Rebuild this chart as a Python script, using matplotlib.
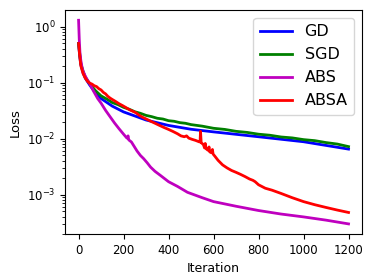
import numpy as np
import matplotlib
matplotlib.use('Agg')
import matplotlib.pyplot as plt

# GD
gd_it = [0, 5, 10, 20, 30, 50, 75, 100, 150, 200, 300, 400, 500, 600, 800, 1000, 1200]
gd_loss = [0.5, 0.3, 0.21, 0.15, 0.12, 0.09, 0.066, 0.052, 0.038, 0.030, 0.0215, 0.0172,
           0.0147, 0.0132, 0.0108, 0.0088, 0.0065]

# SGD
sgd_it = [0, 10, 20, 30, 50, 75, 100, 125, 150, 175, 200, 225, 250, 275, 300, 325, 350,
          375, 400, 425, 450, 475, 500, 550, 600, 650, 700, 750, 800, 850, 900, 950,
          1000, 1050, 1100, 1150, 1200]
sgd_loss = [0.5, 0.22, 0.16, 0.125, 0.095, 0.072, 0.058, 0.051, 0.044, 0.0405, 0.0362,
            0.0335, 0.0302, 0.0283, 0.026, 0.0247, 0.0231, 0.0224, 0.0209, 0.0204, 0.0193,
            0.0188, 0.0178, 0.0167, 0.0153, 0.0146, 0.0135, 0.0129, 0.012, 0.0115,
            0.0107, 0.0103, 0.0096, 0.0092, 0.0085, 0.008, 0.0072]

# ABS
abs_it = [0, 3, 6, 10, 15, 20, 30, 40, 50, 67, 85, 100, 120, 142, 160, 180, 200, 215,
          220, 223, 235, 245, 260, 275, 289, 305, 320, 340, 364, 400, 440, 484, 550, 600,
          700, 800, 900, 1000, 1100, 1200]
abs_loss = [1.3, 0.6, 0.35, 0.25, 0.19, 0.16, 0.13, 0.11, 0.095, 0.07, 0.052, 0.043,
            0.032, 0.024, 0.019, 0.015, 0.012, 0.0102, 0.0112, 0.0095, 0.0087, 0.0075,
            0.006, 0.005, 0.0044, 0.0037, 0.0031, 0.0026, 0.0022, 0.0017, 0.0014, 0.0011,
            0.00088, 0.00075, 0.00062, 0.00052, 0.00045, 0.0004, 0.00035, 0.0003]

# ABSA
absa_it = [0, 5, 10, 20, 30, 40, 50, 60, 70, 80, 90, 100, 110, 120, 130, 140, 150, 165,
           180, 195, 210, 225, 240, 255, 270, 285, 300, 320, 340, 360, 380, 400, 420, 440,
           455, 470, 480, 490, 505, 520, 535, 540, 542, 545, 555, 560, 563, 567, 575, 580,
           583, 590, 595, 598, 605, 620, 640, 660, 680, 700, 720, 740, 760, 775, 785, 800,
           830, 860, 900, 950, 1000, 1050, 1100, 1150, 1200]
absa_loss = [0.5, 0.3, 0.2, 0.145, 0.12, 0.105, 0.098, 0.094, 0.088, 0.085, 0.078, 0.074,
             0.067, 0.063, 0.057, 0.053, 0.05, 0.046, 0.042, 0.039, 0.036, 0.033, 0.031,
             0.029, 0.026, 0.024, 0.0225, 0.0205, 0.0188, 0.0172, 0.0158, 0.0146, 0.0134,
             0.0122, 0.0112, 0.0108, 0.0112, 0.0102, 0.0097, 0.0093, 0.0088, 0.0087,
             0.0135, 0.0085, 0.0078, 0.0068, 0.0082, 0.0066, 0.0062, 0.0071, 0.0058,
             0.0056, 0.0064, 0.0053, 0.0049, 0.0041, 0.0034, 0.003, 0.0027, 0.0025,
             0.0023, 0.0021, 0.0019, 0.0018, 0.0017, 0.0015, 0.0013, 0.0012, 0.00105,
             0.00088, 0.00075, 0.00066, 0.00059, 0.00053, 0.00048]

fig = plt.figure(figsize=(3.74, 2.8), dpi=100)
ax = fig.add_axes([0.174, 0.164, 0.794, 0.8])

ax.plot(gd_it, gd_loss, 'b', lw=2, label='GD')
ax.plot(sgd_it, sgd_loss, 'g', lw=2, label='SGD')
ax.plot(abs_it, abs_loss, 'm', lw=2, label='ABS')
ax.plot(absa_it, absa_loss, 'r', lw=2, label='ABSA')

ax.set_yscale('log')
ax.set_xticks([0, 200, 400, 600, 800, 1000, 1200])
ax.tick_params(labelsize=8.5)
ax.set_xlabel('Iteration', fontsize=9)
ax.set_ylabel('Loss', fontsize=9.5)
ax.legend(loc='upper right', fontsize=11.5)

fig.savefig('out.png')
